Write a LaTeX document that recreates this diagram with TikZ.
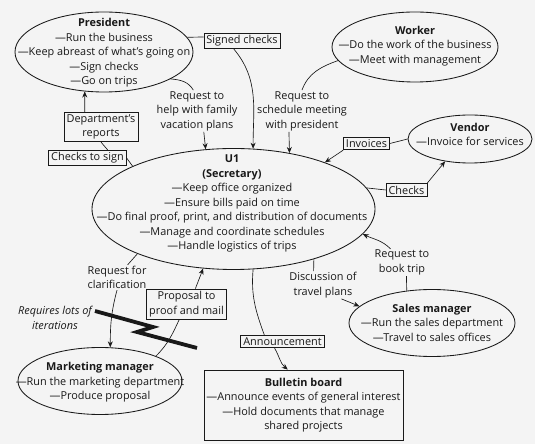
\documentclass[tikz,border=0pt]{standalone}
\usepackage{fontspec}
\setmainfont{Open Sans}
\usetikzlibrary{shapes.geometric,arrows.meta}
\newcommand\fs{\fontsize{10.9}{14.5}\selectfont}
\definecolor{ink}{gray}{0.1}
\definecolor{paper}{gray}{0.955}
\tikzset{
  ent/.style={draw=ink, ellipse, line width=0.85pt, inner sep=0pt},
  txt/.style={align=center, font=\fs, text=ink, inner sep=1pt},
  flow/.style={draw=ink, line width=0.75pt, align=center, font=\fs, text=ink,
               inner xsep=2.5pt, inner ysep=2.3pt},
  con/.style={draw=ink, line width=0.65pt},
  arr/.style={con, -{Stealth[length=6pt,width=5pt]}},
}
\begin{document}
\begin{tikzpicture}[x=1pt,y=1pt]
\fill[paper] (0,0) rectangle (535,444);
\useasboundingbox (0,0) rectangle (535,444);

% people and places
\node[ent, minimum width=178, minimum height=80] (pres) at (104,392) {};
\node[txt] (prest) at (104,391) {\textbf{President}\\—Run the business\\—Keep abreast of what’s going on\\—Sign checks\\—Go on trips};

\node[ent, minimum width=166, minimum height=70] (wk) at (415,397) {};
\node[txt] (wkt) at (415,398) {\textbf{Worker}\\—Do the work of the business\\—Meet with management};

\node[ent, minimum width=124, minimum height=48] (vd) at (470,305) {};
\node[txt] (vdt) at (470,309.5) {\textbf{Vendor}\\—Invoice for services};

\node[ent, minimum width=283, minimum height=121] (u1) at (233.5,235) {};
\node[txt] (u1t) at (232,240.5) {\textbf{U1}\\\textbf{(Secretary)}\\—Keep office organized\\—Ensure bills paid on time\\—Do final proof, print, and distribution of documents\\—Manage and coordinate schedules\\—Handle logistics of trips};

\node[ent, minimum width=164, minimum height=67] (mk) at (100,63) {};
\node[txt] (mkt) at (100,61.5) {\textbf{Marketing manager}\\—Run the marketing department\\—Produce proposal};

\node[ent, minimum width=166, minimum height=67] (sm) at (432,121) {};
\node[txt] (smt) at (432,121.5) {\textbf{Sales manager}\\—Run the sales department\\—Travel to sales offices};

\node[flow, minimum width=193, minimum height=70] (bb) at (303.5,39) {\textbf{Bulletin board}\\—Announce events of general interest\\—Hold documents that manage\\shared projects};

% boxed flows
\node[flow] (sc) at (242,403) {Signed checks};
\node[flow] (inv) at (366.5,300.5) {Invoices};
\node[flow] (chk) at (406.5,254) {Checks};
\node[flow] (dr) at (101,317) {Department’s\\reports};
\node[flow] (cts) at (87.5,286) {Checks to sign};
\node[flow] (pp) at (186.5,140) {Proposal to\\proof and mail};
\node[flow] (ann) at (282.5,102.5) {Announcement};

% free flow labels
\node[txt] (rq1) at (197,333) {Request to\\help with family\\vacation plans};
\node[txt] (rq2) at (302,333) {Request to\\schedule meeting\\with president};
\node[txt] (rc) at (117,166.5) {Request for\\clarification};
\node[txt] (bt) at (402,181.5) {Request to\\book trip};
\node[txt] (dt) at (323,159) {Discussion of\\travel plans};
\node[txt, font=\fs\itshape] (it) at (55,126) {Requires lots of\\iterations};

% connectors
\draw[con] (pres.10) -- (sc.174);
\draw[arr] (sc.225) to[out=-50,in=90] (u1.72);
\draw[con] (pres.-22) to[out=-5,in=120] (rq1.100);
\draw[arr] (rq1.-72) -- (u1.115);
\draw[con] (wk.190) to[out=200,in=70] (rq2.north);
\draw[arr] (rq2.238) -- (u1.45);
\draw[con] (vd.west) -- (inv.east);
\draw[arr] (inv.south west) -- (u1.27);
\draw[con] (u1.9) -- (chk.west);
\draw[arr] (chk.north east) -- (vd.222);
\draw[con] (u1.157) -- (cts.east);
\draw[con] (cts.22) -- (dr.south);
\draw[arr] (dr.137) -- (pres.244);
\draw[con] (u1.205) -- (rc.50);
\draw[arr] (rc.south) to[out=-105,in=90] (mk.73);
\draw[con] (mk.24) to[out=45,in=245] (pp.245);
\draw[arr] (pp.60) -- (u1.243);
\draw[con] (u1.-72) to[out=-95,in=110] (ann.160);
\draw[arr] (ann.220) to[out=-60,in=140] (bb.114);
\draw[con] (u1.-32) -- (dt.124);
\draw[arr] (dt.-37) -- (sm.167);
\draw[con] (sm.128) -- (bt.-72);
\draw[arr] (bt.130) to[out=135,in=-25] (u1.-11);

% lightning bolt
\draw[ink, line width=3.8pt, line join=miter] (95,133) -- (153,117) -- (137,112) -- (197,96);
\end{tikzpicture}
\end{document}
